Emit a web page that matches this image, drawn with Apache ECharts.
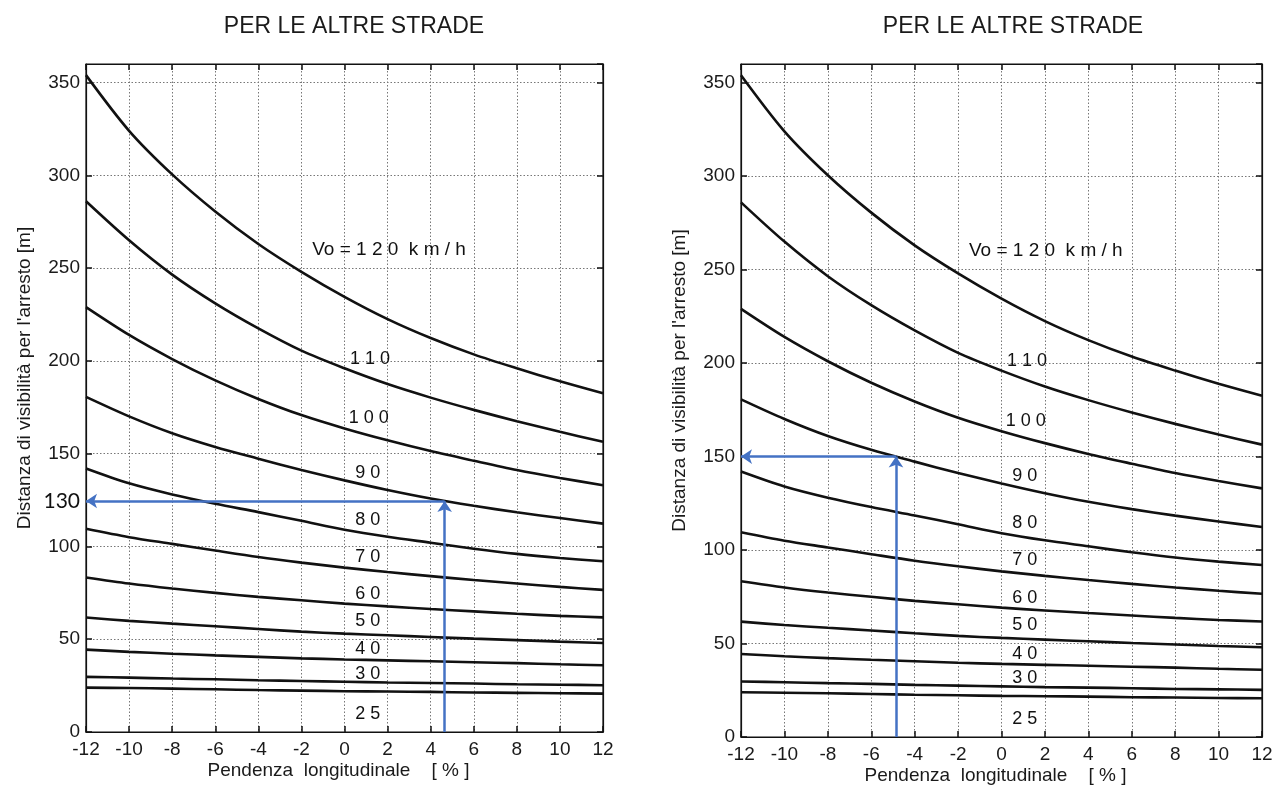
<!DOCTYPE html>
<html>
<head>
<meta charset="utf-8">
<script src="https://cdn.jsdelivr.net/npm/echarts@6/dist/echarts.min.js"></script>
<style>
html,body{margin:0;padding:0;background:#fff;}
#chart{width:1284px;height:789px;}
</style>
</head>
<body>
<div id="chart"></div>
<script>
// ---- data ----
const slopes = [-12, -10, -8, -6, -4, -2, 0, 2, 4, 6, 8, 10, 12];
const v120 = [354, 324, 300.5, 280.5, 263, 248, 234.5, 222.5, 212.3, 203.5, 196, 189, 182.5];
const v110 = [286, 265, 246.5, 231, 217.5, 205.5, 196, 187.5, 180.2, 173.6, 167.5, 161.8, 156.4];
const v100 = [229, 214, 201, 189.5, 179.5, 170.8, 163.6, 157.2, 151.4, 146.2, 141.2, 136.9, 133];
const v90  = [180.6, 170.1, 161, 153.6, 147.3, 141.2, 135.6, 130.4, 125.8, 121.9, 118.4, 115.3, 112.3];
const v80  = [142, 134, 128, 123, 118.5, 113.8, 109, 105.2, 102, 98.8, 96, 93.8, 92];
const v70  = [109.5, 105, 101.4, 97.8, 94.3, 91.3, 88.6, 86.2, 84, 81.9, 80, 78.2, 76.6];
const v60  = [83.3, 80, 77.3, 75, 72.8, 71, 69.2, 67.7, 66.3, 65, 63.7, 62.6, 61.8];
const v50  = [61.7, 59.9, 58.4, 57, 55.5, 54.1, 53, 52.1, 51.2, 50.3, 49.5, 48.7, 48];
const v40  = [44.4, 43.2, 42.2, 41.3, 40.5, 39.7, 39.1, 38.6, 38.1, 37.6, 37.1, 36.5, 36];
const v30  = [29.7, 29.3, 28.8, 28.4, 27.9, 27.5, 27.1, 26.7, 26.4, 26.1, 25.7, 25.5, 25.2];
const v25  = [23.9, 23.7, 23.4, 23, 22.6, 22.3, 22, 21.8, 21.6, 21.3, 21.1, 20.9, 20.7];
const curves = [v120, v110, v100, v90, v80, v70, v60, v50, v40, v30, v25];

const curveLabels = ['Vo = 1 2 0  k m / h', '1 1 0', '1 0 0', '9 0', '8 0', '7 0', '6 0', '5 0', '4 0', '3 0', '2 5'];
const curveLabelX = [-1.5, 0.25, 0.2, 0.5, 0.5, 0.5, 0.5, 0.5, 0.5, 0.5, 0.5];
const curveLabelY = [260, 201, 169, 139.4, 114.2, 94.4, 74.6, 59.8, 44.6, 31.5, 9.5];

const xTicks = { min: -12, max: 12, step: 2 };
const yTicks = { min: 0, max: 360, step: 50 };

const titleText = 'PER LE ALTRE STRADE';
const xName = 'Pendenza  longitudinale    [ % ]';
const yName = "Distanza di visibilità per l'arresto [m]";

// example readings (arrows)
const leftArrow  = { x: 4.65, y: 124.5, label: '130' };
const rightArrow = { x: -4.86, y: 150, label: '' };

// ---- build ----
const FONT = '"Liberation Sans", Arial, sans-serif';
const TXT = '#1a1a1a';
const BLUE = '#4472C4';

const grids = [
  { left: 86, top: 64, width: 517, height: 668 },
  { left: 741, top: 64, width: 521, height: 673 }
];

function xAxes(g) {
  const base = {
    gridIndex: g, type: 'value', min: xTicks.min, max: xTicks.max, interval: xTicks.step,
    axisLine: { show: true, onZero: false, lineStyle: { color: '#111', width: 1.2 } },
    axisTick: { show: true, inside: true, length: 6, lineStyle: { color: '#111', width: 1.5 } }
  };
  return [
    Object.assign({}, base, {
      position: 'bottom',
      name: xName, nameLocation: 'middle', nameGap: 29, nameMoveOverlap: false,
      nameTextStyle: { fontSize: 19, color: TXT, fontFamily: FONT, padding: [0, 12, 0, 0] },
      axisLabel: { fontSize: 19, color: TXT, fontFamily: FONT, margin: 8 },
      splitLine: { show: true, lineStyle: { color: '#777', width: 1, type: [1.5, 2] } }
    }),
    Object.assign({}, base, {
      position: 'top', axisLabel: { show: false }, splitLine: { show: false }
    })
  ];
}
function yAxes(g) {
  const base = {
    gridIndex: g, type: 'value', min: yTicks.min, max: yTicks.max, interval: yTicks.step,
    axisLine: { show: true, onZero: false, lineStyle: { color: '#111', width: 1.2 } },
    axisTick: { show: true, inside: true, length: 6, lineStyle: { color: '#111', width: 1.5 } }
  };
  return [
    Object.assign({}, base, {
      position: 'left',
      name: yName, nameLocation: 'middle', nameGap: 52, nameMoveOverlap: false,
      nameTextStyle: { fontSize: 19, color: TXT, fontFamily: FONT, padding: [0, 0, 0, 40] },
      axisLabel: { fontSize: 19, color: TXT, fontFamily: FONT, margin: 6, showMaxLabel: false },
      splitLine: { show: true, lineStyle: { color: '#777', width: 1, type: [1.5, 2] } }
    }),
    Object.assign({}, base, {
      position: 'right', axisLabel: { show: false }, splitLine: { show: false }
    })
  ];
}

const xAxis = [].concat(xAxes(0), xAxes(1));
const yAxis = [].concat(yAxes(0), yAxes(1));

const series = [];
[0, 1].forEach(function (g) {
  const xi = g * 2, yi = g * 2;
  curves.forEach(function (vals) {
    series.push({
      type: 'line', xAxisIndex: xi, yAxisIndex: yi,
      data: slopes.map(function (x, i) { return [x, vals[i]]; }),
      smooth: 0.3, symbol: 'none', silent: true,
      lineStyle: { color: '#111', width: 2.6 }
    });
  });
  series.push({
    type: 'scatter', xAxisIndex: xi, yAxisIndex: yi, symbolSize: 0, silent: true, clip: false,
    itemStyle: { opacity: 1 },
    data: curveLabels.map(function (t, i) {
      return { name: t, value: [curveLabelX[i], curveLabelY[i]], label: { fontSize: i === 0 ? 19 : 18 } };
    }),
    label: { show: true, position: 'right', distance: 0, formatter: '{b}', fontSize: 18, color: '#111', opacity: 1, fontFamily: FONT }
  });
  const a = g === 0 ? leftArrow : rightArrow;
  series.push({
    type: 'scatter', xAxisIndex: xi, yAxisIndex: yi, symbolSize: 0, silent: true, clip: false,
    itemStyle: { opacity: 1 },
    data: [{ name: a.label, value: [xTicks.min, a.y] }],
    label: { show: a.label !== '', position: 'left', distance: 6, formatter: '{b}', fontSize: 21, color: '#111', opacity: 1, fontFamily: 'Lato, "Open Sans", sans-serif' },
    markLine: {
      silent: true, symbol: ['none', 'arrow'], symbolSize: 11, animation: false,
      label: { show: false },
      lineStyle: { color: BLUE, width: 2.5, type: 'solid', opacity: 1 },
      data: [
        [{ coord: [a.x, yTicks.min] }, { coord: [a.x, a.y] }],
        [{ coord: [a.x, a.y] }, { coord: [xTicks.min, a.y] }]
      ]
    }
  });
});

const chart = echarts.init(document.getElementById('chart'), null, { renderer: 'canvas' });
chart.setOption({
  animation: false,
  backgroundColor: '#fff',
  title: [
    { text: titleText, left: 349, top: 10, textAlign: 'center', textStyle: { fontSize: 23, fontWeight: 'normal', color: TXT, fontFamily: FONT } },
    { text: titleText, left: 1008, top: 10, textAlign: 'center', textStyle: { fontSize: 23, fontWeight: 'normal', color: TXT, fontFamily: FONT } }
  ],
  grid: grids.map(function (g) { return Object.assign({ show: true, borderColor: '#111', borderWidth: 1.2, backgroundColor: 'transparent', outerBoundsMode: 'none', containLabel: false }, g); }),
  xAxis: xAxis,
  yAxis: yAxis,
  series: series
});
</script>
</body>
</html>
